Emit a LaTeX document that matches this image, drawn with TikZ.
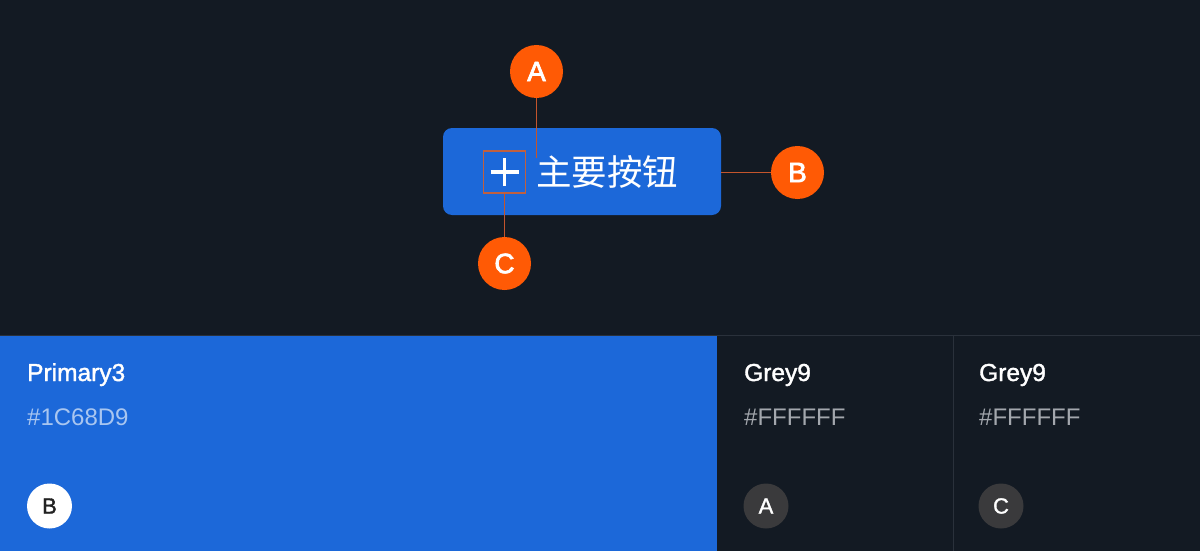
\documentclass[tikz,border=0pt]{standalone}
\usepackage{fontspec}
\usetikzlibrary{calc}
\setmainfont{Liberation Sans}
\newfontfamily\cjkfont{Noto Sans CJK SC}
\newfontfamily\medfont[FakeBold=2.5]{Liberation Sans}
\newfontfamily\semifont[FakeBold=1.5]{Liberation Sans}
\definecolor{bgdark}{HTML}{131A23}
\definecolor{sepline}{HTML}{2A313B}
\definecolor{primblue}{HTML}{1C68D9}
\definecolor{markorange}{HTML}{FF5A05}
\definecolor{leadline}{HTML}{C4552C}
\definecolor{boxline}{HTML}{C0603F}
\definecolor{hexblue}{HTML}{A9C6F0}
\definecolor{hexgrey}{HTML}{A3A7AD}
\definecolor{darkbadge}{HTML}{3A3A3C}
\definecolor{badgetext}{HTML}{222222}
\begin{document}
\begin{tikzpicture}[x=1pt,y=-1pt,
  marker/.style={circle,fill=markorange,minimum size=53pt,inner sep=0pt,text=white,font=\medfont\fontsize{28}{28}\selectfont},
  leader/.style={draw=leadline,line width=1.2pt},
  badge/.style={circle,minimum size=45pt,inner sep=0pt,font=\semifont\fontsize{22}{22}\selectfont},
  title/.style={anchor=base west,inner sep=0pt,text=white,font=\semifont\fontsize{24.5}{24.5}\selectfont},
  hexval/.style={anchor=base west,inner sep=0pt,font=\fontsize{24}{24}\selectfont}]
\useasboundingbox (0,0) rectangle (1200,551);
\fill[bgdark] (0,0) rectangle (1200,551);
% bottom panels
\fill[primblue] (0,336) rectangle (717,551);
\draw[sepline,line width=1pt] (0,335.5) -- (1200,335.5);
\draw[sepline,line width=1pt] (953,336) -- (953,551);
% button
\node[draw=none,fill=primblue,rounded corners=9pt,minimum width=278pt,minimum height=87pt,inner sep=0pt] (btn) at (582,171.5) {};
\node[draw=boxline,line width=1.2pt,minimum size=42pt,inner sep=0pt] (icon) at (504.5,172) {};
\draw[white,line width=3.4pt] ($(icon.center)+(-14,0)$) -- ($(icon.center)+(14,0)$);
\draw[white,line width=3.4pt] ($(icon.center)+(0,-14)$) -- ($(icon.center)+(0,14)$);
\node[anchor=west,inner sep=0pt,text=white,font=\cjkfont\fontsize{35.5}{35.5}\selectfont] (label) at (536,172) {主要按钮};
% markers
\node[marker] (mA) at (536.5,71.5) {A};
\node[marker] (mB) at (797.5,172.5) {B};
\node[marker] (mC) at (504.5,263.5) {C};
\coordinate (aEnd) at (536.5,158);
\draw[leader] (mA.south) -- (aEnd);
\draw[leader] (btn.east |- mB) -- (mB.west);
\draw[leader] (icon.south) -- (mC.north);
% bottom texts
\node[title] (t1) at (27,381) {Primary3};
\node[hexval,text=hexblue] (h1) at (27,425) {\#1C68D9};
\node[badge,fill=white,text=badgetext] (b1) at (49.5,506) {B};
\node[title] (t2) at (744,381) {Grey9};
\node[hexval,text=hexgrey] (h2) at (744,425) {\#FFFFFF};
\node[badge,fill=darkbadge,text=white] (b2) at (766,506) {A};
\node[title] (t3) at (979,381) {Grey9};
\node[hexval,text=hexgrey] (h3) at (979,425) {\#FFFFFF};
\node[badge,fill=darkbadge,text=white] (b3) at (1001,506) {C};
\end{tikzpicture}
\end{document}
